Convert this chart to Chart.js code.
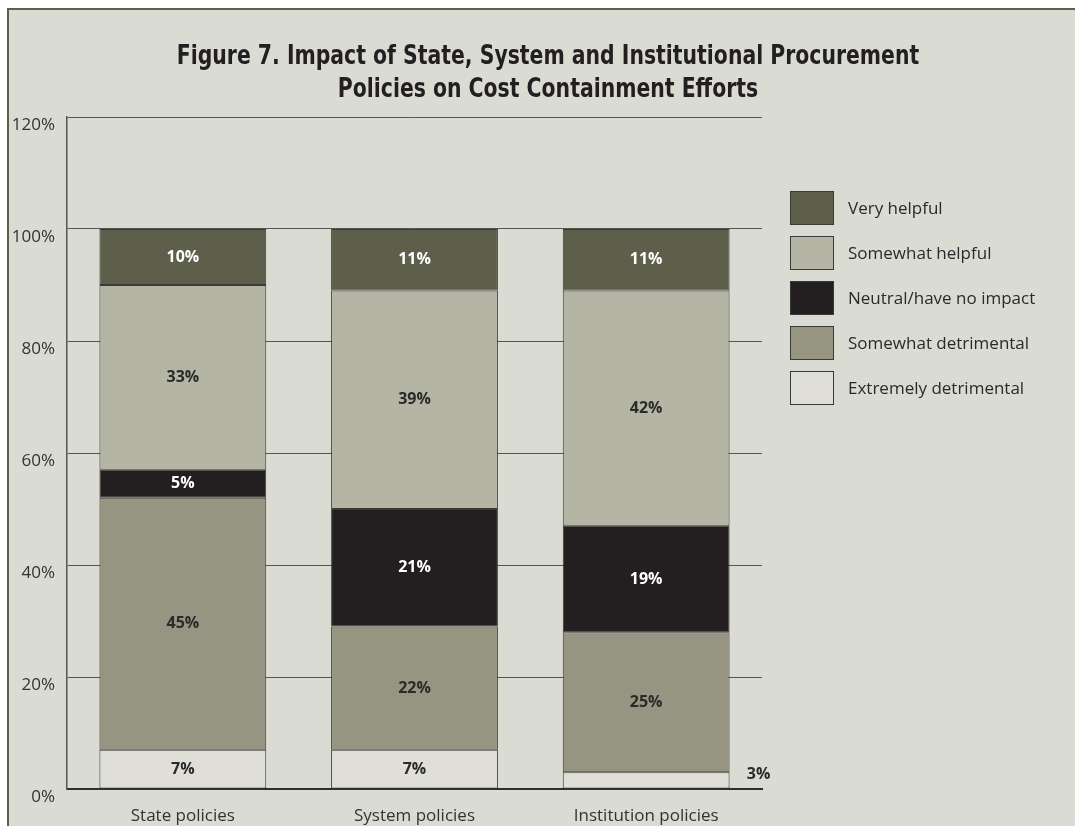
<!DOCTYPE html>
<html>
<head>
<meta charset="utf-8">
<title>Figure 7</title>
<script src="https://cdn.jsdelivr.net/npm/chart.js@4/dist/chart.umd.min.js"></script>
<style>
  html, body { margin: 0; padding: 0; background: #fff; }
  #frame {
    position: absolute; top: 8px; left: 7px;
    width: 1066px; height: 816px;
    border-top: 2px solid #5d6049; border-left: 2px solid #5d6049;
    background: #dadbd3; overflow: hidden;
  }
  #title {
    position: absolute; left: 0; top: 28px; width: 1078px;
    text-align: center; margin: 0;
    font: bold 27px/33px "DejaVu Sans Condensed", "Liberation Sans Narrow", sans-serif;
    color: #231f20;
    transform: scaleX(0.84);
    transform-origin: 539px 0;
  }
  canvas { display: block; }
</style>
</head>
<body>
<div id="frame">
  <canvas id="chart" width="1066" height="816"></canvas>
  <h1 id="title">Figure 7. Impact of State, System and Institutional Procurement<br>Policies on Cost Containment Efforts</h1>
</div>
<script>
(function(){
  // Survey data (percent of respondents)
  const categories = ['State policies', 'System policies', 'Institution policies'];
  const extremelyDetrimental = [7, 7, 3];
  const somewhatDetrimental = [45, 22, 25];
  const neutral = [5, 21, 19];
  const somewhatHelpful = [33, 39, 42];
  const veryHelpful = [10, 11, 11];
  const yTicks = [0, 20, 40, 60, 80, 100, 120];

  const TEXT = '#2b2a2a';
  const FONT = '"Open Sans", "DejaVu Sans", sans-serif';

  const datasets = [
    { label: 'Extremely detrimental', data: extremelyDetrimental, backgroundColor: '#dfdfd8', labelColor: TEXT },
    { label: 'Somewhat detrimental', data: somewhatDetrimental, backgroundColor: '#969581', labelColor: TEXT },
    { label: 'Neutral/have no impact', data: neutral, backgroundColor: '#231f20', labelColor: '#ffffff' },
    { label: 'Somewhat helpful', data: somewhatHelpful, backgroundColor: '#b4b5a5', labelColor: TEXT },
    { label: 'Very helpful', data: veryHelpful, backgroundColor: '#5e5f4a', labelColor: '#ffffff' }
  ].map(d => Object.assign(d, {
    borderColor: '#3a3a36',
    borderWidth: 1,
    borderSkipped: false,
    categoryPercentage: 0.8,
    barPercentage: 0.9
  }));

  // value labels inside each segment; tiny segments get the label beside the bar
  const segmentLabels = {
    id: 'segmentLabels',
    afterDatasetsDraw(chart){
      const ctx = chart.ctx;
      ctx.save();
      ctx.font = 'bold 16px ' + FONT;
      ctx.textAlign = 'center';
      ctx.textBaseline = 'middle';
      chart.data.datasets.forEach((ds, i) => {
        chart.getDatasetMeta(i).data.forEach((bar, j) => {
          const v = ds.data[j];
          const p = bar.getProps(['x', 'y', 'base', 'width'], true);
          const cy = (p.y + p.base) / 2;
          if (v < 4) {
            ctx.fillStyle = TEXT;
            ctx.fillText(v + '%', p.x + p.width / 2 + 29, cy - 6);
          } else {
            ctx.fillStyle = ds.labelColor;
            ctx.fillText(v + '%', p.x, cy);
          }
        });
      });
      ctx.restore();
    }
  };

  // legend box list on the right, top item first
  const sideLegend = {
    id: 'sideLegend',
    afterDraw(chart){
      const ctx = chart.ctx;
      const area = chart.chartArea;
      const x = area.right + 28;
      let y = area.top + 74;
      ctx.save();
      ctx.font = '17px ' + FONT;
      ctx.textBaseline = 'middle';
      chart.data.datasets.slice().reverse().forEach(ds => {
        ctx.fillStyle = ds.backgroundColor;
        ctx.fillRect(x, y, 44, 34);
        ctx.strokeStyle = '#3a3a36';
        ctx.lineWidth = 1;
        ctx.strokeRect(x + 0.5, y + 0.5, 43, 33);
        ctx.fillStyle = TEXT;
        ctx.fillText(ds.label, x + 58, y + 18);
        y += 45;
      });
      ctx.restore();
    }
  };

  new Chart(document.getElementById('chart').getContext('2d'), {
    type: 'bar',
    data: { labels: categories, datasets },
    plugins: [segmentLabels, sideLegend],
    options: {
      responsive: false,
      devicePixelRatio: 1,
      animation: false,
      layout: { padding: { top: 107, right: 313, bottom: 0, left: 0 } },
      plugins: {
        legend: { display: false },
        tooltip: { enabled: false }
      },
      scales: {
        x: {
          stacked: true,
          grid: { display: false, drawTicks: false },
          border: { display: true, color: '#2e2e2e', width: 2 },
          ticks: { color: '#333', font: { family: FONT, size: 17 }, padding: 17 },
          afterFit(scale){ scale.height = 37; }
        },
        y: {
          stacked: true,
          min: 0,
          max: 120,
          afterBuildTicks(scale){ scale.ticks = yTicks.map(v => ({ value: v })); },
          grid: { color: '#555', lineWidth: 1, drawTicks: false },
          border: { display: true, color: '#555', width: 1.5 },
          ticks: {
            color: '#333',
            font: { family: FONT, size: 17 },
            padding: 12,
            labelOffset: 8,
            callback: v => v + '%'
          },
          afterFit(scale){ scale.width = 58; }
        }
      }
    }
  });
})();
</script>
</body>
</html>
